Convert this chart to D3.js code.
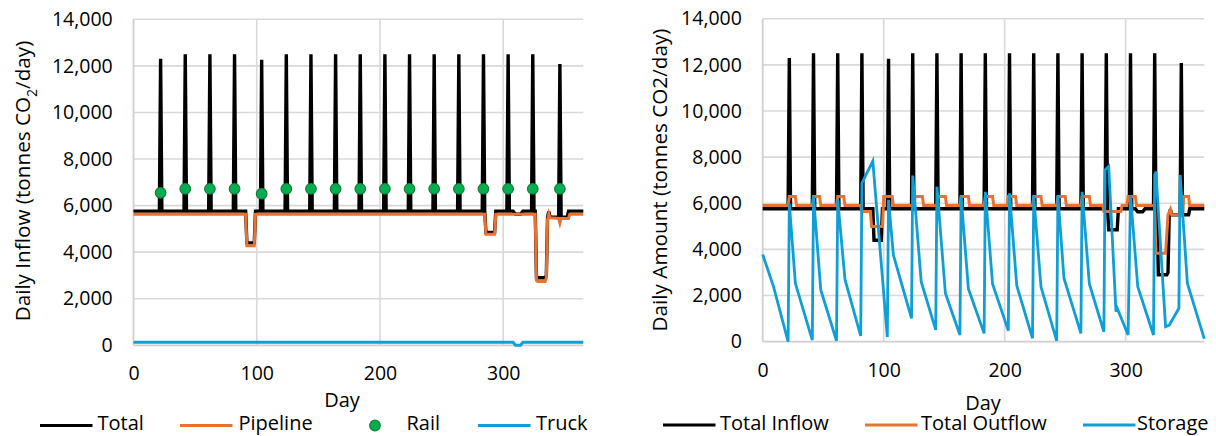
<!DOCTYPE html>
<html>
<head>
<meta charset="utf-8">
<script src="https://cdn.jsdelivr.net/npm/d3@7"></script>
<style>
  body { margin: 0; background: #fff; }
  svg { display: block; }
  text { font-family: 'Open Sans', sans-serif; fill: #000; }
</style>
</head>
<body>
<svg id="chart" width="1216" height="436"></svg>
<script>
// ---- axis ticks ----
const dayTicks = [0, 100, 200, 300];
const amountTicks = [0, 2000, 4000, 6000, 8000, 10000, 12000, 14000];

// ---- daily inflow series, as [day, tonnes CO2/day] vertices ----
const totalInflow = [
  [0, 5760], [21, 5760], [22, 12300], [23, 5760],
  [41, 5760], [42, 12500], [43, 5760],
  [61, 5760], [62, 12500], [63, 5760],
  [81, 5760], [82, 12500], [83, 5760],
  [91, 5760], [92, 4400], [98, 4400], [99, 5760],
  [103, 5760], [104, 12260], [105, 5760],
  [123, 5760], [124, 12500], [125, 5760],
  [143, 5760], [144, 12500], [145, 5760],
  [163, 5760], [164, 12500], [165, 5760],
  [183, 5760], [184, 12500], [185, 5760],
  [203, 5760], [204, 12500], [205, 5760],
  [223, 5760], [224, 12500], [225, 5760],
  [243, 5760], [244, 12500], [245, 5760],
  [263, 5760], [264, 12500], [265, 5760],
  [283, 5760], [284, 12500], [285, 5760], [286, 4850], [293, 4850], [294, 5760],
  [303, 5760], [304, 12500], [305, 5760],
  [308, 5760], [310, 5630], [314, 5630], [316, 5760],
  [323, 5760], [324, 12500], [325, 5760], [326, 5760], [327, 2900], [334, 2900],
  [335, 3000], [336, 5500], [337, 5740], [338, 5500], [345, 5500], [346, 12080],
  [347, 5500], [352, 5500], [353, 5760], [365, 5760]
];

const pipeline = [
  [0, 5630], [91, 5630], [92, 4280], [98, 4280], [99, 5630],
  [285, 5630], [286, 4770], [293, 4770], [294, 5630],
  [326, 5630], [327, 2780], [328, 2740], [334, 2740], [335, 2900],
  [336, 5400], [337, 5650], [338, 5480], [345, 5450], [346, 5250], [347, 5450],
  [353, 5450], [354, 5630], [365, 5630]
];

const railDays = [22, 42, 62, 82, 104, 124, 144, 164, 184, 204, 224, 244, 264, 284, 304, 324, 346];
const railValues = [6550, 6720, 6720, 6720, 6510, 6720, 6720, 6720, 6720, 6720, 6720, 6720, 6720, 6720, 6720, 6720, 6720];

const truck = [
  [0, 130], [308, 130], [310, 0], [314, 0], [316, 130], [365, 130]
];

// ---- daily balance series ----
const totalOutflow = [
  [0, 5900], [21, 5900], [22, 6290], [27, 6290], [28, 5900],
  [41, 5900], [42, 6290], [47, 6290], [48, 5900],
  [61, 5900], [62, 6290], [67, 6290], [68, 5900],
  [81, 5900], [82, 5640], [89, 5640], [90, 4990], [99, 4990],
  [100, 6290], [107, 6290], [108, 5900],
  [125, 5900], [126, 6290], [132, 6290], [133, 5900],
  [144, 5900], [145, 6290], [151, 6290], [152, 5900],
  [163, 5900], [164, 6290], [170, 6290], [171, 5900],
  [183, 5900], [184, 6290], [190, 6290], [191, 5900],
  [202, 5900], [203, 6290], [209, 6290], [210, 5900],
  [223, 5900], [224, 6290], [230, 6290], [231, 5900],
  [243, 5900], [244, 6290], [250, 6290], [251, 5900],
  [263, 5900], [264, 6290], [270, 6290], [271, 5900],
  [281, 5900], [282, 5640], [296, 5640], [297, 5900],
  [301, 5900], [302, 6290], [308, 6290], [309, 5900],
  [324, 5900], [325, 3830], [333, 3830], [335, 5500], [337, 5740], [338, 5500],
  [347, 5500], [348, 6290], [352, 6290], [353, 5900], [365, 5900]
];

const storage = [
  [0, 3780], [9, 2380], [21, 0],
  [22, 6000], [27, 2530], [41, 70],
  [42, 6300], [48, 2240], [61, 40],
  [62, 6150], [68, 2700], [81, 250],
  [82, 6870], [91, 7830], [103, 200],
  [104, 6150], [108, 3760], [123, 1010],
  [124, 7200], [131, 2600], [143, 510],
  [144, 6720], [151, 2100], [163, 290],
  [164, 6290], [170, 2300], [183, 360],
  [184, 6500], [190, 2500], [203, 480],
  [204, 6430], [210, 2430], [223, 150],
  [224, 6320], [230, 2380], [243, 40],
  [244, 6320], [249, 2750], [263, 360],
  [264, 6500], [270, 2500], [282, 430],
  [283, 7450], [286, 7600], [292, 1300], [293, 1450], [302, 290],
  [304, 6360], [310, 2380], [323, 290],
  [324, 7230], [325, 7370], [333, 650], [336, 720], [344, 1450],
  [345, 7230], [351, 2530], [365, 120]
];

// ---- styling ----
const BLACK = "#000000", ORANGE = "#E97132", BLUE = "#0F9ED5", GREEN = "#00B050";
const GRID = "#D9D9D9";
const TICK_FS = 19.5, TITLE_FS = 20.7, LABEL_FS = 20;

const svg = d3.select("#chart");

function drawPanel(p) {
  const x = d3.scaleLinear().domain([0, 365]).range([p.x0, p.x1]);
  const y = d3.scaleLinear().domain([0, 14000]).range([p.y0, p.y1]);
  const g = svg.append("g");

  // horizontal gridlines
  g.append("g").selectAll("line").data(amountTicks.slice(1)).join("line")
    .attr("x1", p.x0).attr("x2", p.x1)
    .attr("y1", d => y(d)).attr("y2", d => y(d))
    .attr("stroke", GRID).attr("stroke-width", 1.6);
  // vertical gridlines
  g.append("g").selectAll("line").data(dayTicks.slice(1)).join("line")
    .attr("x1", d => x(d)).attr("x2", d => x(d))
    .attr("y1", p.y0).attr("y2", p.y1)
    .attr("stroke", GRID).attr("stroke-width", 1.6);
  // axis lines
  g.append("line").attr("x1", p.x0).attr("x2", p.x0).attr("y1", p.y0).attr("y2", p.y1)
    .attr("stroke", "#CFCFCF").attr("stroke-width", 1.8);
  g.append("line").attr("x1", p.x0).attr("x2", p.x1).attr("y1", p.y0).attr("y2", p.y0)
    .attr("stroke", "#CFCFCF").attr("stroke-width", 1.8);

  // tick labels through d3 axes
  const ya = g.append("g").attr("transform", `translate(${p.x0},0)`)
    .call(d3.axisLeft(y).tickValues(amountTicks).tickFormat(d3.format(",")).tickSize(0).tickPadding(20.8));
  ya.select(".domain").remove();
  ya.selectAll("text").style("font-size", TICK_FS + "px").style("font-family", "'Open Sans', sans-serif").attr("fill", "#000");

  const xa = g.append("g").attr("transform", `translate(0,${p.y0})`)
    .call(d3.axisBottom(x).tickValues(dayTicks).tickSize(0).tickPadding(21));
  xa.select(".domain").remove();
  xa.selectAll("text").style("font-size", TICK_FS + "px").style("font-family", "'Open Sans', sans-serif").attr("fill", "#000");

  // axis titles
  g.append("text").attr("x", p.dayX).attr("y", p.dayY).attr("text-anchor", "middle")
    .style("font-size", LABEL_FS + "px").text("Day");

  const yt = g.append("text")
    .attr("transform", `translate(${p.titleX},${p.titleY}) rotate(-90)`)
    .attr("text-anchor", "middle").attr("dominant-baseline", "central")
    .style("font-size", TITLE_FS + "px");
  p.title(yt);

  const line = d3.line().x(d => x(d[0])).y(d => y(d[1]));
  p.series.forEach(s => {
    g.append("path").attr("d", line(s.data)).attr("fill", "none")
      .attr("stroke", s.color).attr("stroke-width", s.width)
      .attr("stroke-linejoin", "miter");
  });
  if (p.dots) {
    g.append("g").selectAll("circle").data(p.dots.days).join("circle")
      .attr("cx", d => x(d)).attr("cy", (d, i) => y(p.dots.values[i]))
      .attr("r", 5.3).attr("fill", GREEN).attr("stroke", "#1F7A3A").attr("stroke-width", 1.2);
  }

  // legend: key marks centred on legendY, labels on a baseline just below
  const lg = g.append("g");
  p.legend.forEach(it => {
    if (it.type === "line") {
      lg.append("line").attr("x1", it.x).attr("x2", it.x + 52.5)
        .attr("y1", p.legendY).attr("y2", p.legendY)
        .attr("stroke", it.color).attr("stroke-width", 3);
    } else {
      lg.append("circle").attr("cx", it.x + 26).attr("cy", p.legendY).attr("r", 5.3)
        .attr("fill", GREEN).attr("stroke", "#1F7A3A").attr("stroke-width", 1.2);
    }
    lg.append("text").attr("x", it.tx).attr("y", p.legendBase)
      .style("font-size", LABEL_FS + "px").text(it.label);
  });
}

drawPanel({
  x0: 133.5, x1: 583.3, y0: 345.3, y1: 19.3,
  dayX: 342, dayY: 407,
  titleX: 22, titleY: 181,
  title: t => {
    t.append("tspan").text("Daily Inflow (tonnes CO");
    t.append("tspan").attr("baseline-shift", "sub").style("font-size", "14px").text("2");
    t.append("tspan").text("/day)");
  },
  series: [
    { data: totalInflow, color: BLACK, width: 3.4 },
    { data: pipeline, color: ORANGE, width: 3 },
    { data: truck, color: BLUE, width: 3 }
  ],
  dots: { days: railDays, values: railValues },
  legendY: 425.5, legendBase: 430,
  legend: [
    { type: "line", x: 40, tx: 97.5, color: BLACK, label: "Total" },
    { type: "line", x: 180, tx: 238.5, color: ORANGE, label: "Pipeline" },
    { type: "dot", x: 349, tx: 406.5, label: "Rail" },
    { type: "line", x: 478, tx: 536, color: BLUE, label: "Truck" }
  ]
});

drawPanel({
  x0: 762.7, x1: 1204.3, y0: 341.7, y1: 18.7,
  dayX: 983, dayY: 409.5,
  titleX: 659, titleY: 180,
  title: t => t.text("Daily Amount (tonnes CO2/day)"),
  series: [
    { data: totalInflow, color: BLACK, width: 3.4 },
    { data: totalOutflow, color: ORANGE, width: 3 },
    { data: storage, color: BLUE, width: 2.8 }
  ],
  legendY: 425, legendBase: 430,
  legend: [
    { type: "line", x: 663, tx: 720, color: BLACK, label: "Total Inflow" },
    { type: "line", x: 865, tx: 921, color: ORANGE, label: "Total Outflow" },
    { type: "line", x: 1083, tx: 1137, color: BLUE, label: "Storage" }
  ]
});
</script>
</body>
</html>
